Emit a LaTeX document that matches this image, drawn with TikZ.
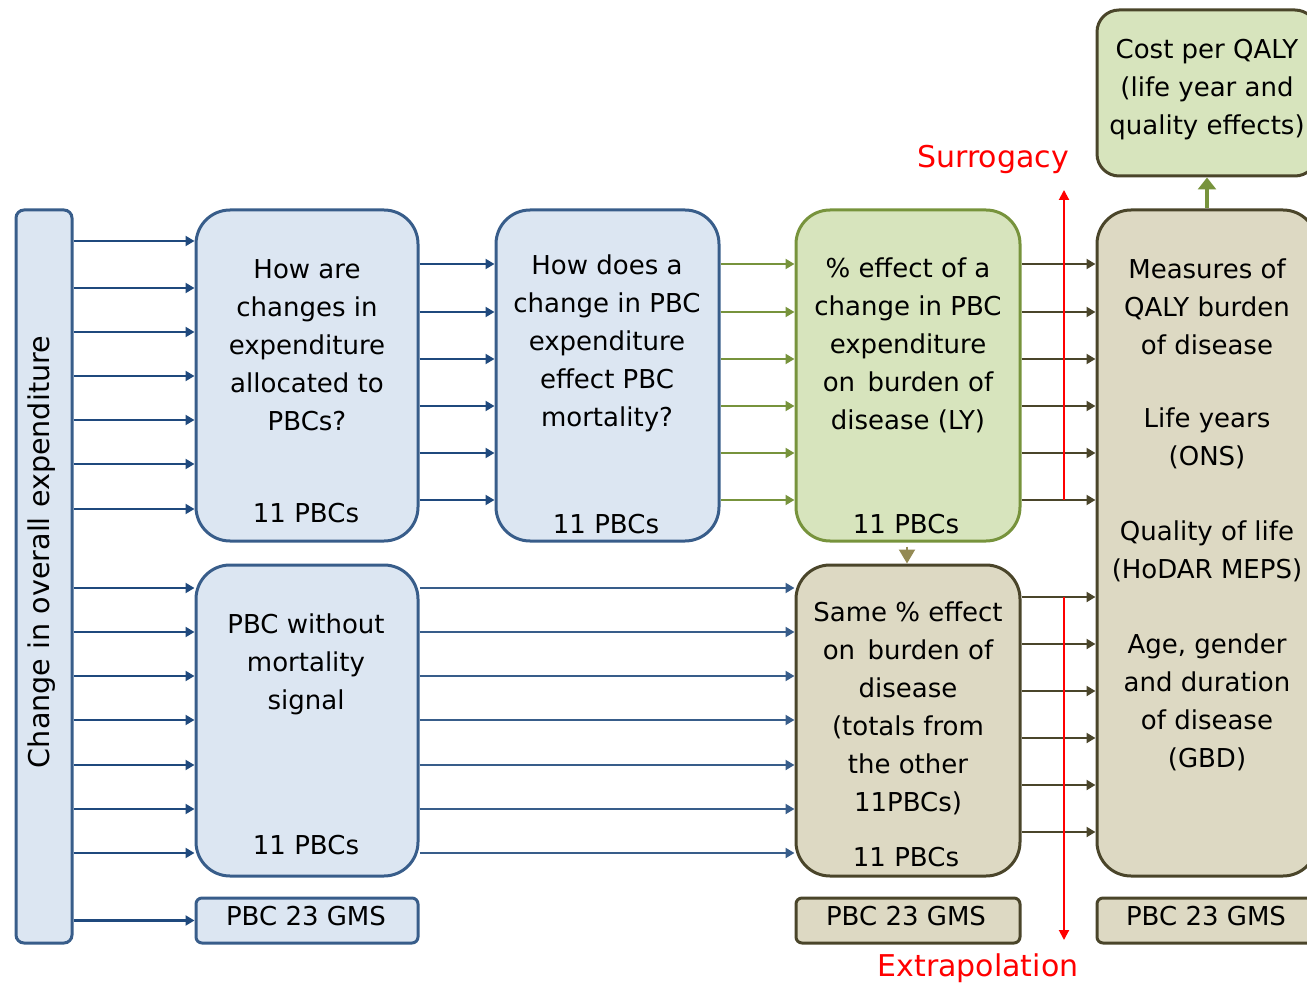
\documentclass[tikz,border=0pt]{standalone}
\usepackage{fontspec}
\setmainfont{DejaVu Sans}
\usetikzlibrary{arrows.meta}
\definecolor{bfill}{HTML}{DCE6F2}
\definecolor{bline}{HTML}{385D8A}
\definecolor{barr}{HTML}{1F497D}
\definecolor{gfill}{HTML}{D7E4BD}
\definecolor{gline}{HTML}{77933C}
\definecolor{tfill}{HTML}{DDD9C3}
\definecolor{tline}{HTML}{4A452A}
\definecolor{tarr}{HTML}{948A54}
\tikzset{
  bx/.style={draw, line width=1.5pt, rounded corners=17pt, inner sep=0pt},
  bluebox/.style={bx, draw=bline, fill=bfill},
  greenbox/.style={bx, draw=gline, fill=gfill},
  tanbox/.style={bx, draw=tline, fill=tfill},
  txt/.style={align=center, font=\fontsize{13pt}{19pt}\selectfont, inner sep=0pt, text=black},
  redtxt/.style={font=\fontsize{15pt}{18pt}\selectfont, text=red, inner sep=0pt},
  tip/.style={-{Triangle[length=4.5pt,width=5pt]}},
  bluearr/.style={tip, draw=barr, line width=1.2pt},
  blue2arr/.style={tip, draw=bline, line width=1.2pt},
  greenarr/.style={tip, draw=gline, line width=1.1pt},
  darkarr/.style={tip, draw=tline, line width=1.2pt},
  redarr/.style={-{Triangle[length=5pt,width=5pt]}, draw=red, line width=1pt},
}
\begin{document}
\begin{tikzpicture}[x=0.5pt,y=-0.5pt]
\useasboundingbox (0,0) rectangle (1307,984);
\clip (0,0) rectangle (1307,984);
% boxes
\node[bluebox, rounded corners=4pt, minimum width=28pt, minimum height=366.5pt] (L) at (44,576.5) {};
\node[bluebox, minimum width=111pt, minimum height=165.5pt] (A) at (307,375.5) {};
\node[bluebox, minimum width=111.5pt, minimum height=165.5pt] (B) at (607.5,375.5) {};
\node[greenbox, minimum width=112pt, minimum height=165.5pt] (C) at (908,375.5) {};
\node[bluebox, minimum width=111pt, minimum height=155.5pt] (E) at (307,720.5) {};
\node[tanbox, minimum width=112pt, minimum height=155.5pt] (D) at (908,720.5) {};
\node[tanbox, minimum width=110pt, minimum height=333pt] (F) at (1207,543) {};
\node[greenbox, draw=tline, rounded corners=11pt, minimum width=110pt, minimum height=83pt] (G) at (1207,93) {};
\node[bluebox, rounded corners=3pt, minimum width=111pt, minimum height=22.5pt] (P1) at (307,920.5) {};
\node[tanbox, rounded corners=3pt, minimum width=112pt, minimum height=22.5pt] (P2) at (908,920.5) {};
\node[tanbox, rounded corners=3pt, minimum width=110pt, minimum height=22.5pt] (P3) at (1207,920.5) {};
% texts
\node[txt, font=\fontsize{14.3pt}{19pt}\selectfont, rotate=90] (Lt) at (42,552) {Change in overall expenditure};
\node[txt] (At) at (307,345) {How are\\changes in\\expenditure\\allocated to\\PBCs?};
\node[txt] (An) at (306,513) {11 PBCs};
\node[txt] (Bt) at (607,343) {How does a\\change in PBC\\expenditure\\effect PBC\\mortality?};
\node[txt] (Bn) at (606,524) {11 PBCs};
\node[txt] (Ct) at (908,345) {\% effect of a\\change in PBC\\expenditure\\on\, burden of\\disease (LY)};
\node[txt] (Cn) at (906,524) {11 PBCs};
\node[txt] (Et) at (306,664) {PBC without\\mortality\\signal};
\node[txt] (En) at (306,845) {11 PBCs};
\node[txt] (Dt) at (908,708) {Same \% effect\\on\, burden of\\disease\\(totals from\\the other\\11PBCs)};
\node[txt] (Dn) at (906,857) {11 PBCs};
\node[txt] (F1) at (1207,307) {Measures of\\QALY burden\\of disease};
\node[txt] (F2) at (1207,438) {Life years\\(ONS)};
\node[txt] (F3) at (1207,551) {Quality of life\\(HoDAR MEPS)};
\node[txt] (F4) at (1207,702) {Age, gender\\and duration\\of disease\\(GBD)};
\node[txt] (Gt) at (1207,90) {Cost per QALY\\(life year and\\quality effects)};
\node[txt] (P1t) at (306,916) {PBC 23 GMS};
\node[txt] (P2t) at (906,916) {PBC 23 GMS};
\node[txt] (P3t) at (1206,916) {PBC 23 GMS};
\node[redtxt] (sur) at (993,159) {Surrogacy};
\node[redtxt] (ext) at (978,968) {Extrapolation};
% connectors
\foreach \y in {241,288,332,376,420,464,509} \draw[bluearr] (L.east |- 0,\y) -- (A.west |- 0,\y);
\foreach \y in {588,632,676,720,765,809,853} \draw[bluearr] (L.east |- 0,\y) -- (E.west |- 0,\y);
\draw[bluearr] (L.east |- P1.west) -- (P1.west);
\foreach \y in {264,312,359,406,453,500} {
  \draw[bluearr] (A.east |- 0,\y) -- (B.west |- 0,\y);
  \draw[greenarr] (B.east |- 0,\y) -- (C.west |- 0,\y);
  \draw[darkarr] (C.east |- 0,\y) -- (F.west |- 0,\y);
}
\foreach \y in {588,632,676,720,765,809,853} \draw[blue2arr] (E.east |- 0,\y) -- (D.west |- 0,\y);
\foreach \y in {597,644,691,738,785,832} \draw[darkarr] (D.east |- 0,\y) -- (F.west |- 0,\y);
\draw[-{Triangle[length=7pt,width=8pt]}, draw=tarr, line width=1pt, shorten <=2pt] (C.south -| 907,0) -- (D.north -| 907,0);
\draw[-{Triangle[length=6pt,width=9pt]}, draw=gline, line width=2.2pt] (F.north) -- (G.south);
\coordinate (r1) at (1064,500);
\coordinate (r2) at (1064,190);
\coordinate (r3) at (1064,597);
\coordinate (r4) at (1064,940);
\draw[redarr] (r1) -- (r2);
\draw[redarr] (r3) -- (r4);
\end{tikzpicture}
\end{document}
